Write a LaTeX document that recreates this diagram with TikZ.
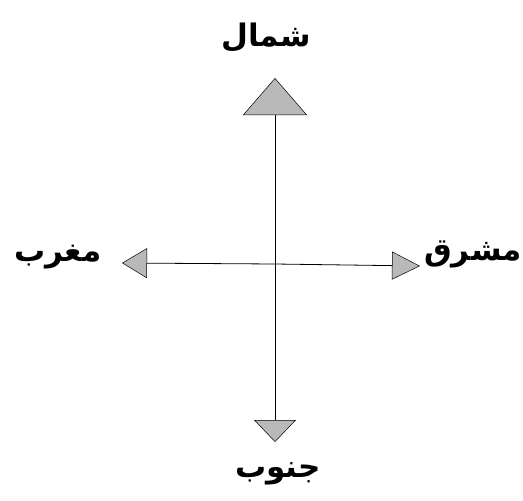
\documentclass[tikz,border=0pt]{standalone}
\usepackage{fontspec}
\usepackage{tikz}
\usetikzlibrary{arrows.meta}
\TeXXeTstate=1
\newfontfamily\arabicfont[Script=Arabic]{DejaVu Sans}

\begin{document}
\begin{tikzpicture}[x=1pt, y=1pt,
    axis/.style 2 args={line width=0.8pt,
        -{Triangle[width=#1, length=#2, fill=gray!55, color=black, line width=0.5pt]}},
    lbl/.style={font=\arabicfont\bfseries\fontsize{31}{38}\selectfont, inner sep=0pt},
]
    \useasboundingbox (0,0) rectangle (523,-501);

    % Directions
    \node[lbl] (north) at (266,-38)  {\beginR شمال\endR};
    \node[lbl] (south) at (278,-474) {\beginR جنوب\endR};
    \node[lbl] (west)  at (58,-257)  {\beginR مغرب\endR};
    \node[lbl] (east)  at (473,-254) {\beginR مشرق\endR};

    % Arrow ends
    \coordinate (c) at (275,-264);
    \coordinate (ntip) at (275,-78);
    \coordinate (stip) at (275,-442);
    \coordinate (wtip) at (122,-263);
    \coordinate (etip) at (420,-266);

    % Cross
    \draw[axis={64pt}{37pt}] (c) -- (ntip);
    \draw[axis={42pt}{22pt}] (c) -- (stip);
    \draw[axis={30pt}{25pt}] (c) -- (wtip);
    \draw[axis={28pt}{28pt}] (c) -- (etip);
\end{tikzpicture}
\end{document}
